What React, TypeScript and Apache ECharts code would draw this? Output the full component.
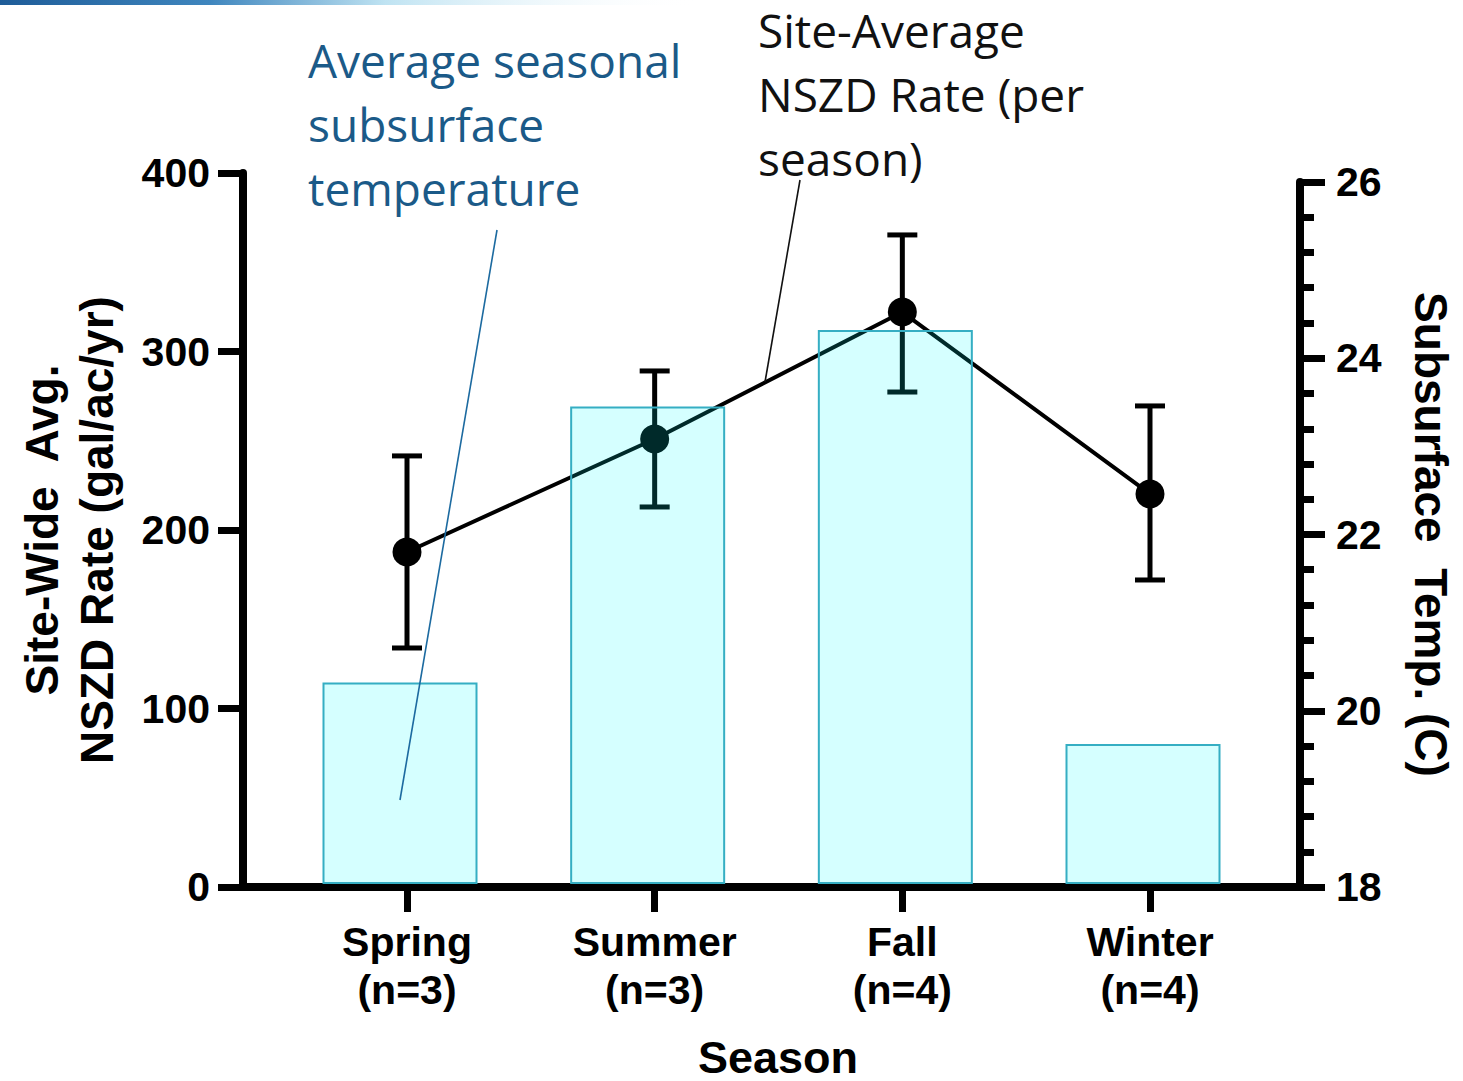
import React, { useEffect, useRef } from "react";
import * as echarts from "echarts";

const seasons = ["Spring\n(n=3)", "Summer\n(n=3)", "Fall\n(n=4)", "Winter\n(n=4)"];
const tempValues = [20.31, 23.44, 24.31, 19.61];
const nszdMean = [187.7, 251.0, 322.1, 220.2];
const nszdLow = [133.9, 212.9, 277.3, 172.0];
const nszdHigh = [241.5, 289.1, 365.3, 269.5];
const TEMP_MIN = 18;
const TEMP_MAX = 26;

const AXIS_FONT = '"Liberation Sans", Arial, sans-serif';
const NOTE_FONT = '"Open Sans", "Noto Sans", sans-serif';

export default function App() {
  const ref = useRef<HTMLDivElement>(null);
  useEffect(() => {
    document.body.style.margin = "0";
    if (!ref.current) return;
    const chart = echarts.init(ref.current, null, { renderer: "svg" });
    const axisLabelStyle = {
      fontSize: 41,
      fontWeight: "bold" as const,
      color: "#000",
      fontFamily: AXIS_FONT,
    };
    const errData = nszdLow.map((lo, i) => [i, lo, nszdHigh[i]]);
    const barData = tempValues.map((v, i) => [i, v]);
    const noteLines = (lines: string[], x: number, y0: number, color: string) =>
      lines.map((t, k) => ({
        type: "text",
        x,
        y: y0 + k * 64,
        style: {
          text: t,
          font: `46px ${NOTE_FONT}`,
          fill: color,
          verticalAlign: "middle",
        },
        z: 10,
      }));
    const option: any = {
      animation: false,
      backgroundColor: "#fff",
      grid: [
        { left: 407, right: 313, top: 173, bottom: 194, outerBoundsMode: "none", containLabel: false },
        { left: 407, right: 313, top: 182, bottom: 194, outerBoundsMode: "none", containLabel: false },
        { left: 243, right: 162, top: 173, bottom: 194, outerBoundsMode: "none", containLabel: false },
      ],
      xAxis: [
        {
          gridIndex: 0,
          type: "category",
          data: seasons,
          boundaryGap: false,
          axisLine: { show: false },
          axisTick: { show: true, length: 25, lineStyle: { color: "#000", width: 7 } },
          axisLabel: { ...axisLabelStyle, lineHeight: 48, margin: 31 },
          splitLine: { show: false },
        },
        {
          gridIndex: 1,
          type: "category",
          data: seasons,
          boundaryGap: false,
          show: false,
        },
        {
          gridIndex: 2,
          type: "value",
          min: 0,
          max: 1,
          axisLine: { show: true, onZero: false, lineStyle: { color: "#000", width: 8 } },
          axisTick: { show: false },
          axisLabel: { show: false },
          splitLine: { show: false },
          name: "Season",
          nameLocation: "middle",
          nameGap: 150,
          nameTextStyle: { fontSize: 45, fontWeight: "bold", color: "#000", fontFamily: AXIS_FONT, lineHeight: 40, padding: [0, 0, 0, 12] },
        },
      ],
      yAxis: [
        {
          gridIndex: 0,
          type: "value",
          min: 0,
          max: 400,
          interval: 100,
          position: "left",
          offset: 164,
          axisLine: { show: true, lineStyle: { color: "#000", width: 8 } },
          axisTick: { show: true, length: 25, lineStyle: { color: "#000", width: 7 } },
          axisLabel: { ...axisLabelStyle, margin: 33 },
          splitLine: { show: false },
          name: "Site-Wide  Avg.\nNSZD Rate (gal/ac/yr)",
          nameLocation: "middle",
          nameRotate: 90,
          nameGap: 119,
          nameTextStyle: { fontSize: 46, fontWeight: "bold", color: "#000", fontFamily: AXIS_FONT, lineHeight: 55 },
        },
        {
          gridIndex: 1,
          type: "value",
          min: TEMP_MIN,
          max: TEMP_MAX,
          interval: 2,
          position: "right",
          offset: 150,
          axisLine: { show: true, lineStyle: { color: "#000", width: 8 } },
          axisTick: { show: true, length: 25, lineStyle: { color: "#000", width: 7 } },
          minorTick: { show: true, splitNumber: 5, length: 14, lineStyle: { color: "#000", width: 7 } },
          axisLabel: { ...axisLabelStyle, margin: 36 },
          splitLine: { show: false },
          minorSplitLine: { show: false },
          name: "Subsurface  Temp. (C)",
          nameLocation: "middle",
          nameRotate: -90,
          nameGap: 106,
          nameTextStyle: { fontSize: 46, fontWeight: "bold", color: "#000", fontFamily: AXIS_FONT, lineHeight: 50 },
        },
        {
          gridIndex: 2,
          type: "value",
          min: 0,
          max: 1,
          show: false,
        },
      ],
      series: [
        {
          type: "line",
          xAxisIndex: 0,
          yAxisIndex: 0,
          data: nszdMean,
          symbol: "circle",
          symbolSize: 29,
          lineStyle: { color: "#000", width: 4 },
          itemStyle: { color: "#000" },
          z: 2,
        },
        {
          type: "custom",
          xAxisIndex: 0,
          yAxisIndex: 0,
          data: errData,
          encode: { x: 0, y: [1, 2] },
          z: 2,
          renderItem: (params: any, api: any) => {
            const x = api.value(0);
            const lo = api.coord([x, api.value(1)]);
            const hi = api.coord([x, api.value(2)]);
            const w = 15;
            const st = { stroke: "#000", lineWidth: 5 };
            return {
              type: "group",
              children: [
                { type: "line", shape: { x1: lo[0], y1: lo[1], x2: hi[0], y2: hi[1] }, style: st },
                { type: "line", shape: { x1: hi[0] - w, y1: hi[1], x2: hi[0] + w, y2: hi[1] }, style: st },
                { type: "line", shape: { x1: lo[0] - w, y1: lo[1], x2: lo[0] + w, y2: lo[1] }, style: st },
              ],
            };
          },
        },
        {
          type: "custom",
          xAxisIndex: 1,
          yAxisIndex: 1,
          data: barData,
          encode: { x: 0, y: 1 },
          z: 5,
          clip: false,
          renderItem: (params: any, api: any) => {
            const i = api.value(0);
            const top = api.coord([i, api.value(1)]);
            const base = api.coord([i, TEMP_MIN]);
            const bw = 153;
            const shift = -7;
            return {
              type: "rect",
              shape: { x: top[0] - bw / 2 + shift, y: top[1], width: bw, height: base[1] - top[1] - 4 },
              style: { fill: "rgba(0,255,255,0.165)", stroke: "#35AEC3", lineWidth: 2 },
            };
          },
        },
      ],
      graphic: [
        {
          type: "rect",
          shape: { x: 0, y: 0, width: 700, height: 5 },
          style: {
            fill: new echarts.graphic.LinearGradient(0, 0, 1, 0, [
              { offset: 0, color: "#1E5C98" },
              { offset: 0.3, color: "#3F86BE" },
              { offset: 0.55, color: "#BFE3F2" },
              { offset: 1, color: "rgba(255,255,255,0)" },
            ]),
          },
          z: 10,
        },
        ...noteLines(["Average seasonal", "subsurface", "temperature"], 308, 60, "#1B5A88"),
        ...noteLines(["Site-Average", "NSZD Rate (per", "season)"], 758, 30, "#111"),
        {
          type: "line",
          shape: { x1: 497, y1: 230, x2: 400, y2: 800 },
          style: { stroke: "#1C6AA0", lineWidth: 1.6 },
          z: 10,
        },
        {
          type: "line",
          shape: { x1: 800, y1: 180, x2: 765, y2: 382 },
          style: { stroke: "#111", lineWidth: 1.6 },
          z: 10,
        },
      ],
    };
    chart.setOption(option);
    return () => chart.dispose();
  }, []);
  return <div ref={ref} style={{ width: 1463, height: 1081 }} />;
}
